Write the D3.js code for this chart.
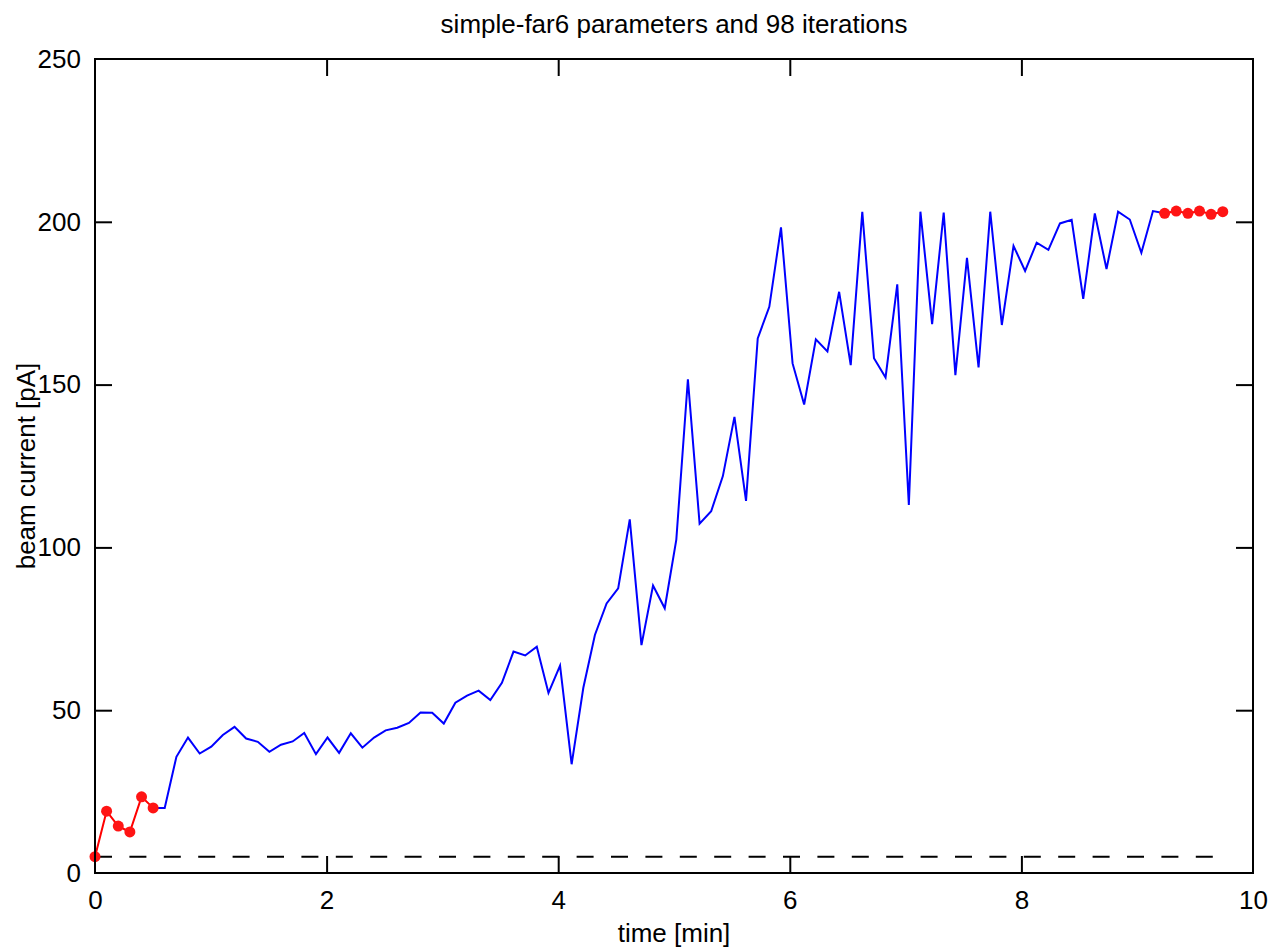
<!DOCTYPE html>
<html>
<head>
<meta charset="utf-8">
<script src="https://cdn.jsdelivr.net/npm/d3@7"></script>
<style>
  html, body { margin: 0; padding: 0; background: #fff; }
  svg { display: block; font-family: "Liberation Sans", Arial, Helvetica, sans-serif; }
</style>
</head>
<body>
<svg id="chart" width="1272" height="948"></svg>
<script>
// Elapsed time of each iteration [min]
const times = [
  0, 0.100, 0.201, 0.301, 0.402, 0.502, 0.602, 0.703, 0.803, 0.904,
  1.004, 1.104, 1.205, 1.305, 1.406, 1.506, 1.606, 1.707, 1.807, 1.908,
  2.008, 2.108, 2.209, 2.309, 2.410, 2.510, 2.610, 2.711, 2.811, 2.912,
  3.012, 3.112, 3.213, 3.313, 3.414, 3.514, 3.614, 3.715, 3.815, 3.916,
  4.016, 4.116, 4.217, 4.317, 4.418, 4.518, 4.618, 4.719, 4.819, 4.920,
  5.020, 5.120, 5.221, 5.321, 5.422, 5.522, 5.622, 5.723, 5.823, 5.924,
  6.024, 6.124, 6.225, 6.325, 6.426, 6.526, 6.626, 6.727, 6.827, 6.928,
  7.028, 7.128, 7.229, 7.329, 7.430, 7.530, 7.630, 7.731, 7.831, 7.932,
  8.032, 8.132, 8.233, 8.333, 8.434, 8.534, 8.634, 8.735, 8.835, 8.936,
  9.036, 9.136, 9.237, 9.337, 9.438, 9.538, 9.638, 9.739
];

// Measured beam current per iteration [pA]
const current = [
  5.0, 19.0, 14.4, 12.6, 23.4, 20.0, 20.0, 35.7, 41.6, 36.7,
  38.8, 42.4, 44.9, 41.3, 40.3, 37.2, 39.4, 40.4, 43.0, 36.5,
  41.6, 36.9, 42.9, 38.5, 41.6, 43.8, 44.6, 46.1, 49.3, 49.2,
  45.9, 52.3, 54.5, 56.0, 53.1, 58.4, 68.0, 66.8, 69.5, 55.3,
  63.7, 33.4, 56.9, 73.1, 82.8, 87.4, 108.6, 70.0, 88.3, 81.3,
  102.4, 151.6, 107.3, 111.1, 121.9, 140.1, 114.3, 164.2, 173.9, 198.3,
  156.5, 143.9, 163.9, 160.2, 178.5, 156.0, 203.1, 158.1, 152.2, 180.8,
  113.0, 203.1, 168.6, 202.8, 152.9, 188.9, 155.3, 203.1, 168.3, 192.6,
  184.9, 193.6, 191.4, 199.5, 200.6, 176.3, 202.6, 185.5, 203.1, 200.7,
  190.5, 203.3, 202.6, 203.3, 202.6, 203.3, 202.3, 203.1
];

// Index ranges: initial probing, optimisation run, final settling
const startRange = [0, 5];
const optimRange = [5, 92];
const finalRange = [92, 97];

const baselineLevel = 5;

const xTicks = [0, 2, 4, 6, 8, 10];
const yTicks = [0, 50, 100, 150, 200, 250];

const titleText = "simple-far6 parameters and 98 iterations";
const xLabel = "time [min]";
const yLabel = "beam current [pA]";

// ---- layout ----
const svg = d3.select("#chart");
const plotL = 95, plotR = 1253, plotT = 59, plotB = 873;
const tickLen = 17;
const fontSize = 26;

const x = d3.scaleLinear().domain([0, 10]).range([plotL, plotR]);
const y = d3.scaleLinear().domain([0, 250]).range([plotB, plotT]);

const pts = times.map((t, i) => ({ t, v: current[i] }));
const slice = r => pts.slice(r[0], r[1] + 1);

const line = d3.line().x(d => x(d.t)).y(d => y(d.v));

// axes with inward ticks on all four sides
function styleAxis(g) {
  g.select(".domain").remove();
  g.selectAll(".tick line").attr("stroke", "#000").attr("stroke-width", 2);
  g.selectAll("text").attr("fill", "#000").style("font-size", fontSize + "px")
    .style("font-family", '"Liberation Sans", Arial, sans-serif');
}

svg.append("g")
  .attr("transform", `translate(0,${plotB})`)
  .call(d3.axisBottom(x).tickValues(xTicks).tickFormat(d3.format("d"))
    .tickSizeInner(-tickLen).tickSizeOuter(0).tickPadding(18))
  .call(styleAxis);

svg.append("g")
  .attr("transform", `translate(0,${plotT})`)
  .call(d3.axisTop(x).tickValues(xTicks).tickFormat("")
    .tickSizeInner(-tickLen).tickSizeOuter(0))
  .call(styleAxis);

svg.append("g")
  .attr("transform", `translate(${plotL},0)`)
  .call(d3.axisLeft(y).tickValues(yTicks).tickFormat(d3.format("d"))
    .tickSizeInner(-tickLen).tickSizeOuter(0).tickPadding(14))
  .call(styleAxis);

svg.append("g")
  .attr("transform", `translate(${plotR},0)`)
  .call(d3.axisRight(y).tickValues(yTicks).tickFormat("")
    .tickSizeInner(-tickLen).tickSizeOuter(0))
  .call(styleAxis);

// hide the edge ticks that coincide with the frame
svg.selectAll(".tick").filter(d => d === 0 || d === 10 || d === 250)
  .select("line").attr("stroke-opacity", 0);

// baseline (dashed)
svg.append("line")
  .attr("x1", x(times[0])).attr("x2", x(times[times.length - 1]))
  .attr("y1", y(baselineLevel)).attr("y2", y(baselineLevel))
  .attr("stroke", "#000").attr("stroke-width", 2)
  .attr("stroke-dasharray", "17,17.4");

// optimisation trace
svg.append("path")
  .datum(slice(optimRange))
  .attr("d", line)
  .attr("fill", "none")
  .attr("stroke", "#0000ff")
  .attr("stroke-width", 2)
  .attr("stroke-linejoin", "miter");

// start and final segments with markers
[startRange, finalRange].forEach(r => {
  const seg = slice(r);
  svg.append("path")
    .datum(seg)
    .attr("d", line)
    .attr("fill", "none")
    .attr("stroke", "#ff0000")
    .attr("stroke-width", 2);
  svg.append("g").selectAll("circle")
    .data(seg)
    .join("circle")
    .attr("cx", d => x(d.t))
    .attr("cy", d => y(d.v))
    .attr("r", 5.5)
    .attr("fill", "#ff1414");
});

// frame
svg.append("rect")
  .attr("x", plotL).attr("y", plotT)
  .attr("width", plotR - plotL).attr("height", plotB - plotT)
  .attr("fill", "none").attr("stroke", "#000").attr("stroke-width", 2);

// title and axis labels
svg.append("text")
  .attr("x", (plotL + plotR) / 2).attr("y", 33)
  .attr("text-anchor", "middle")
  .style("font-size", fontSize + "px")
  .text(titleText);

svg.append("text")
  .attr("x", (plotL + plotR) / 2).attr("y", 942)
  .attr("text-anchor", "middle")
  .style("font-size", fontSize + "px")
  .text(xLabel);

svg.append("text")
  .attr("transform", `translate(35,${(plotT + plotB) / 2}) rotate(-90)`)
  .attr("text-anchor", "middle")
  .style("font-size", fontSize + "px")
  .text(yLabel);
</script>
</body>
</html>
